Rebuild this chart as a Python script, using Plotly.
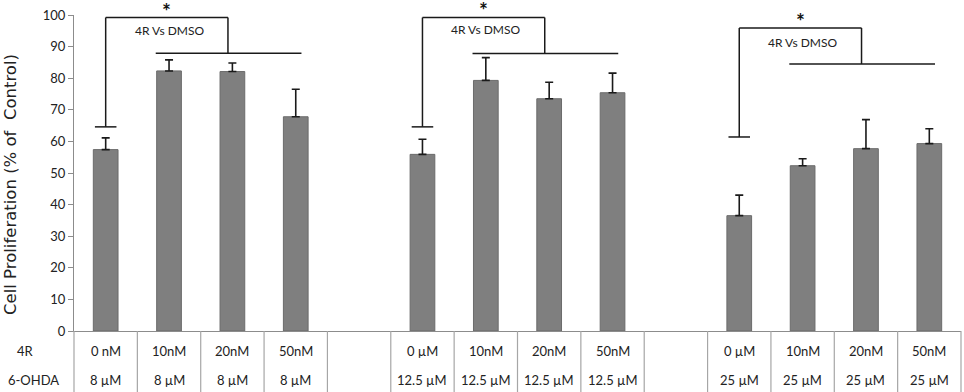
import plotly.graph_objects as go

# ---- data ----
r4_labels = ["0 nM", "10nM", "20nM", "50nM",
             "0 µM", "10nM", "20nM", "50nM",
             "0 µM", "10nM", "20nM", "50nM"]
ohda_labels = ["8 µM", "8 µM", "8 µM", "8 µM",
               "12.5 µM", "12.5 µM", "12.5 µM", "12.5 µM",
               "25 µM", "25 µM", "25 µM", "25 µM"]
values = [57.4, 82.3, 82.1, 67.8,
          55.9, 79.3, 73.5, 75.4,
          36.5, 52.3, 57.7, 59.3]
errors = [3.7, 3.5, 2.7, 8.7,
          4.8, 7.2, 5.2, 6.2,
          6.5, 2.2, 9.2, 4.7]
y_ticks = [0, 10, 20, 30, 40, 50, 60, 70, 80, 90, 100]
row_labels = ["4R", "6-OHDA"]
sig_text = "4R Vs DMSO"
y_title = "Cell Proliferation (% of  Control)"

# bracket geometry per group (value levels)
br_base = [64.6, 64.6, 61.4]
br_top = [99.2, 99.2, 95.9]
br_drop = [87.9, 87.8, 84.5]
txt_y = [95.0, 95.3, 91.2]
star_top = [105.9, 106.2, 103.0]   # top of the star's text box (value units)

n_slots = 14
group_size = 4
slots = [g * (group_size + 1) + i for g in range(3) for i in range(group_size)]

# plot-area geometry in px (for paper-coordinate placement of table text)
PLOT_W, PLOT_H = 887, 316

FONT = "Lato"
TXT = "#222"
fig = go.Figure()
fig.add_trace(go.Bar(
    x=slots, y=values, width=0.39,
    marker=dict(color="#7f7f7f", line=dict(color="#6b6b6b", width=1)),
    error_y=dict(type="data", symmetric=False, array=errors,
                 arrayminus=[0] * len(errors),
                 color="#1a1a1a", thickness=1.6, width=4),
    showlegend=False, hoverinfo="skip",
))

shapes = []
annotations = []
LC = dict(color="#1a1a1a", width=1.5)
for g in range(3):
    s0 = g * (group_size + 1)
    left = s0
    shapes.append(dict(type="line", xref="x", yref="y", x0=left, x1=left,
                       y0=br_base[g], y1=br_top[g], line=LC))
    shapes.append(dict(type="line", xref="x", yref="y", x0=left - 0.17, x1=left + 0.17,
                       y0=br_base[g], y1=br_base[g], line=LC))
    right = s0 + 1.93
    shapes.append(dict(type="line", xref="x", yref="y", x0=left, x1=right,
                       y0=br_top[g], y1=br_top[g], line=LC))
    shapes.append(dict(type="line", xref="x", yref="y", x0=right, x1=right,
                       y0=br_top[g], y1=br_drop[g], line=LC))
    shapes.append(dict(type="line", xref="x", yref="y", x0=s0 + 0.79, x1=s0 + 3.09,
                       y0=br_drop[g], y1=br_drop[g], line=LC))
    annotations.append(dict(x=s0 + 1.0, y=txt_y[g], xref="x", yref="y", text=sig_text,
                            xanchor="center", yanchor="middle",
                            showarrow=False, font=dict(family=FONT, size=12, color=TXT)))
    annotations.append(dict(x=(s0 + 0.96 + 0.5) / n_slots, y=star_top[g] / 100,
                            xref="paper", yref="paper", text="<b>*</b>",
                            xanchor="center", yanchor="top",
                            showarrow=False, font=dict(family=FONT, size=21, color="#111")))

# data table lines
y_bottom_paper = -64 / PLOT_H
for b in range(n_slots + 1):
    xp = b / n_slots
    shapes.append(dict(type="line", xref="paper", yref="paper", x0=xp, x1=xp,
                       y0=0, y1=y_bottom_paper,
                       line=dict(color="#a6a6a6", width=1.2)))

row_y = [-20 / PLOT_H, -49 / PLOT_H]
for k, s in enumerate(slots):
    xp = (s + 0.5) / n_slots
    for lab, ry in ((r4_labels[k], row_y[0]), (ohda_labels[k], row_y[1])):
        annotations.append(dict(x=xp, y=ry, xref="paper", yref="paper", text=lab,
                                xanchor="center", yanchor="middle", showarrow=False,
                                font=dict(family=FONT, size=13, color=TXT)))

row_label_x = [-49 / PLOT_W, -41 / PLOT_W]
for lab, rx, ry in zip(row_labels, row_label_x, row_y):
    annotations.append(dict(x=rx, y=ry, xref="paper", yref="paper", text=lab,
                            xanchor="center", yanchor="middle", showarrow=False,
                            font=dict(family=FONT, size=13, color=TXT)))

annotations.append(dict(x=-64 / PLOT_W, y=(331 - 185) / PLOT_H, xref="paper", yref="paper",
                        text=y_title, textangle=-90, xanchor="center", yanchor="middle",
                        showarrow=False, font=dict(family="DejaVu Sans", size=16.5, color=TXT)))

fig.update_layout(
    width=964, height=392,
    margin=dict(l=74, r=3, t=15, b=61),
    paper_bgcolor="white", plot_bgcolor="white",
    xaxis=dict(range=[-0.5, n_slots - 0.5], showticklabels=False, ticks="",
               showgrid=False, zeroline=False, showline=True,
               linecolor="#8c8c8c", linewidth=1.2),
    yaxis=dict(range=[0, 100], tickvals=y_ticks, showgrid=False, zeroline=False,
               showline=True, linecolor="#8c8c8c", linewidth=1.2,
               ticks="outside", ticklen=5, tickcolor="#8c8c8c",
               tickfont=dict(family=FONT, size=13, color=TXT)),
    shapes=shapes, annotations=annotations,
)

fig.write_html("out.html", config={"displayModeBar": False},
               post_script="document.body.style.margin='0';document.body.style.overflow='hidden';")
